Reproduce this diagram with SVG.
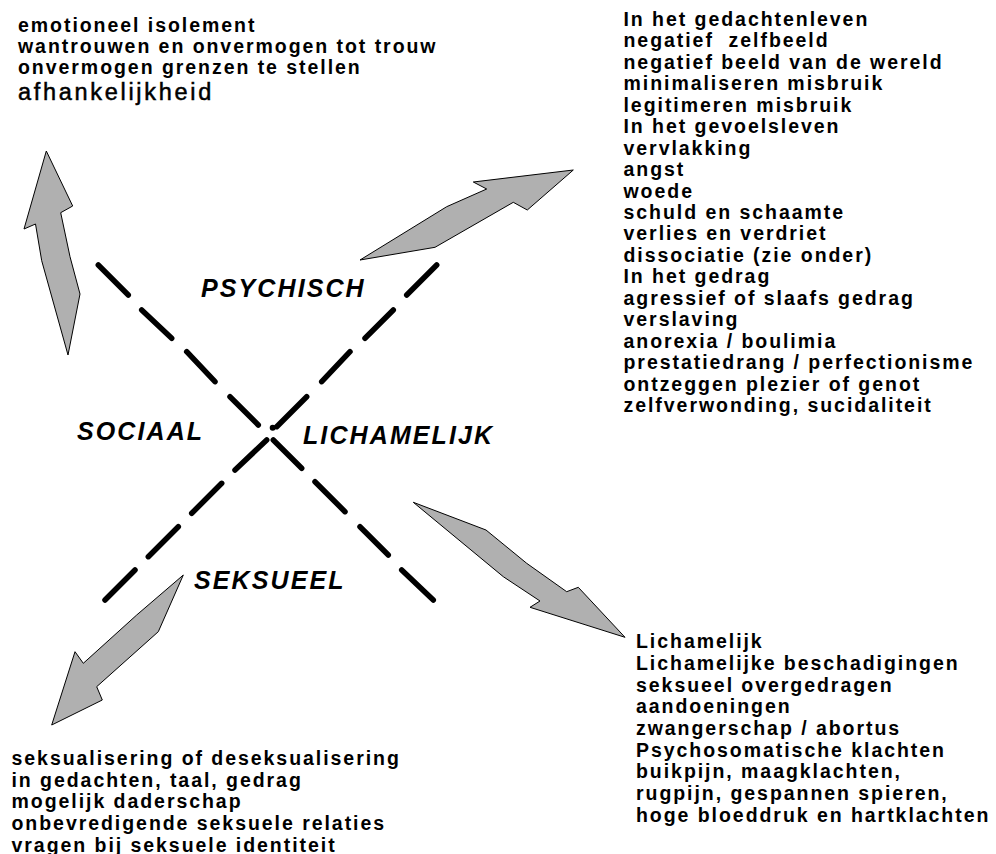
<svg xmlns="http://www.w3.org/2000/svg" width="996" height="854" viewBox="0 0 996 854">
<style>
.t{font-family:"Liberation Sans",Arial,sans-serif;font-weight:bold;font-size:19.5px;letter-spacing:1.95px;fill:#000}
.big{font-family:"Liberation Sans",Arial,sans-serif;font-weight:normal;font-size:23.5px;letter-spacing:2.7px;fill:#000;stroke:#000;stroke-width:0.5px}
.lab{font-family:"Liberation Sans",Arial,sans-serif;font-weight:bold;font-style:italic;font-size:25px;letter-spacing:2.1px;fill:#000}
.arrow{fill:#b0b0b0;stroke:#000;stroke-width:1;stroke-linejoin:miter}
.dash{fill:none;stroke:#000;stroke-width:5.5;stroke-linecap:round}
</style>
<rect width="996" height="854" fill="#fff"/>
<g id="axes">
<path class="dash" d="M98.3,265L128.3,295M141.7,310L171.7,338.3M186.7,351.7L215,381.7M230,396.7L258.3,425M273.3,440L301.7,468.3M315,481.7L345,511.7M360,526.7L388.3,555M401.7,570L433.3,600"/>
<path class="dash" d="M436.7,265L406.7,295M393.3,310L365,338.3M350,351.7L321.7,381.7M306.7,396.7L276.7,426.7M266.7,440L235,470M221.7,483.3L191.7,513.3M178.3,526.7L148.3,556.7M135,570L105,600"/>
<circle cx="272.7" cy="427.7" r="3" fill="#000"/>
</g>
<g id="connectors">
<polygon id="arrow-sociaal" class="arrow" points="46.3,151 72.7,206 60.7,212.7 70,256.7 80,294 68,355 41.7,260.7 35.5,224 24,229"/>
<polygon id="arrow-psychisch" class="arrow" points="360,260 435,247.3 513.3,202.3 527.3,210 573.3,170 473.3,182 486.7,189 446.7,206.7"/>
<polygon id="arrow-lichamelijk" class="arrow" points="413.3,502.3 486,530 526.7,563.3 566.7,591.7 578.3,587.3 625,637.3 530,607.3 540,601 503.3,576.7"/>
<polygon id="arrow-seksueel" class="arrow" points="183.3,575 158.3,631.7 96.7,686.7 102.3,700 51.7,725 75,651.7 83.3,663.3 136.7,615"/>
</g>
<g id="label-psychisch"><text class="lab" x="201" y="297">PSYCHISCH</text></g>
<g id="label-sociaal"><text class="lab" x="77" y="440">SOCIAAL</text></g>
<g id="label-lichamelijk"><text class="lab" x="303" y="444">LICHAMELIJK</text></g>
<g id="label-seksueel"><text class="lab" x="194" y="589">SEKSUEEL</text></g>
<g id="text-sociaal">
<text class="t" x="18" y="32.3">emotioneel isolement</text>
<text class="t" x="18" y="53.3">wantrouwen en onvermogen tot trouw</text>
<text class="t" x="18" y="74">onvermogen grenzen te stellen</text>
<text class="big" x="18" y="100">afhankelijkheid</text>
</g>
<g id="text-psychisch">
<text class="t" x="623.5" y="25.7">In het gedachtenleven</text>
<text class="t" x="623.5" y="47.2" xml:space="preserve">negatief  zelfbeeld</text>
<text class="t" x="623.5" y="68.6">negatief beeld van de wereld</text>
<text class="t" x="623.5" y="90.1">minimaliseren misbruik</text>
<text class="t" x="623.5" y="111.6">legitimeren misbruik</text>
<text class="t" x="623.5" y="133">In het gevoelsleven</text>
<text class="t" x="623.5" y="154.5">vervlakking</text>
<text class="t" x="623.5" y="176">angst</text>
<text class="t" x="623.5" y="197.5">woede</text>
<text class="t" x="623.5" y="218.9">schuld en schaamte</text>
<text class="t" x="623.5" y="240.4">verlies en verdriet</text>
<text class="t" x="623.5" y="261.9">dissociatie (zie onder)</text>
<text class="t" x="623.5" y="283.3">In het gedrag</text>
<text class="t" x="623.5" y="304.8">agressief of slaafs gedrag</text>
<text class="t" x="623.5" y="326.3">verslaving</text>
<text class="t" x="623.5" y="347.7">anorexia / boulimia</text>
<text class="t" x="623.5" y="369.2">prestatiedrang / perfectionisme</text>
<text class="t" x="623.5" y="390.7">ontzeggen plezier of genot</text>
<text class="t" x="623.5" y="412.2">zelfverwonding, sucidaliteit</text>
</g>
<g id="text-lichamelijk">
<text class="t" x="636" y="648.3">Lichamelijk</text>
<text class="t" x="636" y="670">Lichamelijke beschadigingen</text>
<text class="t" x="636" y="691.7">seksueel overgedragen</text>
<text class="t" x="636" y="713.3">aandoeningen</text>
<text class="t" x="636" y="735">zwangerschap / abortus</text>
<text class="t" x="636" y="756.7">Psychosomatische klachten</text>
<text class="t" x="636" y="778.3">buikpijn, maagklachten,</text>
<text class="t" x="636" y="800">rugpijn, gespannen spieren,</text>
<text class="t" x="636" y="821.7">hoge bloeddruk en hartklachten</text>
</g>
<g id="text-seksueel">
<text class="t" x="11.5" y="765">seksualisering of deseksualisering</text>
<text class="t" x="11.5" y="786.7">in gedachten, taal, gedrag</text>
<text class="t" x="11.5" y="808.3">mogelijk daderschap</text>
<text class="t" x="11.5" y="830">onbevredigende seksuele relaties</text>
<text class="t" x="11.5" y="851.7">vragen bij seksuele identiteit</text>
</g>
</svg>
